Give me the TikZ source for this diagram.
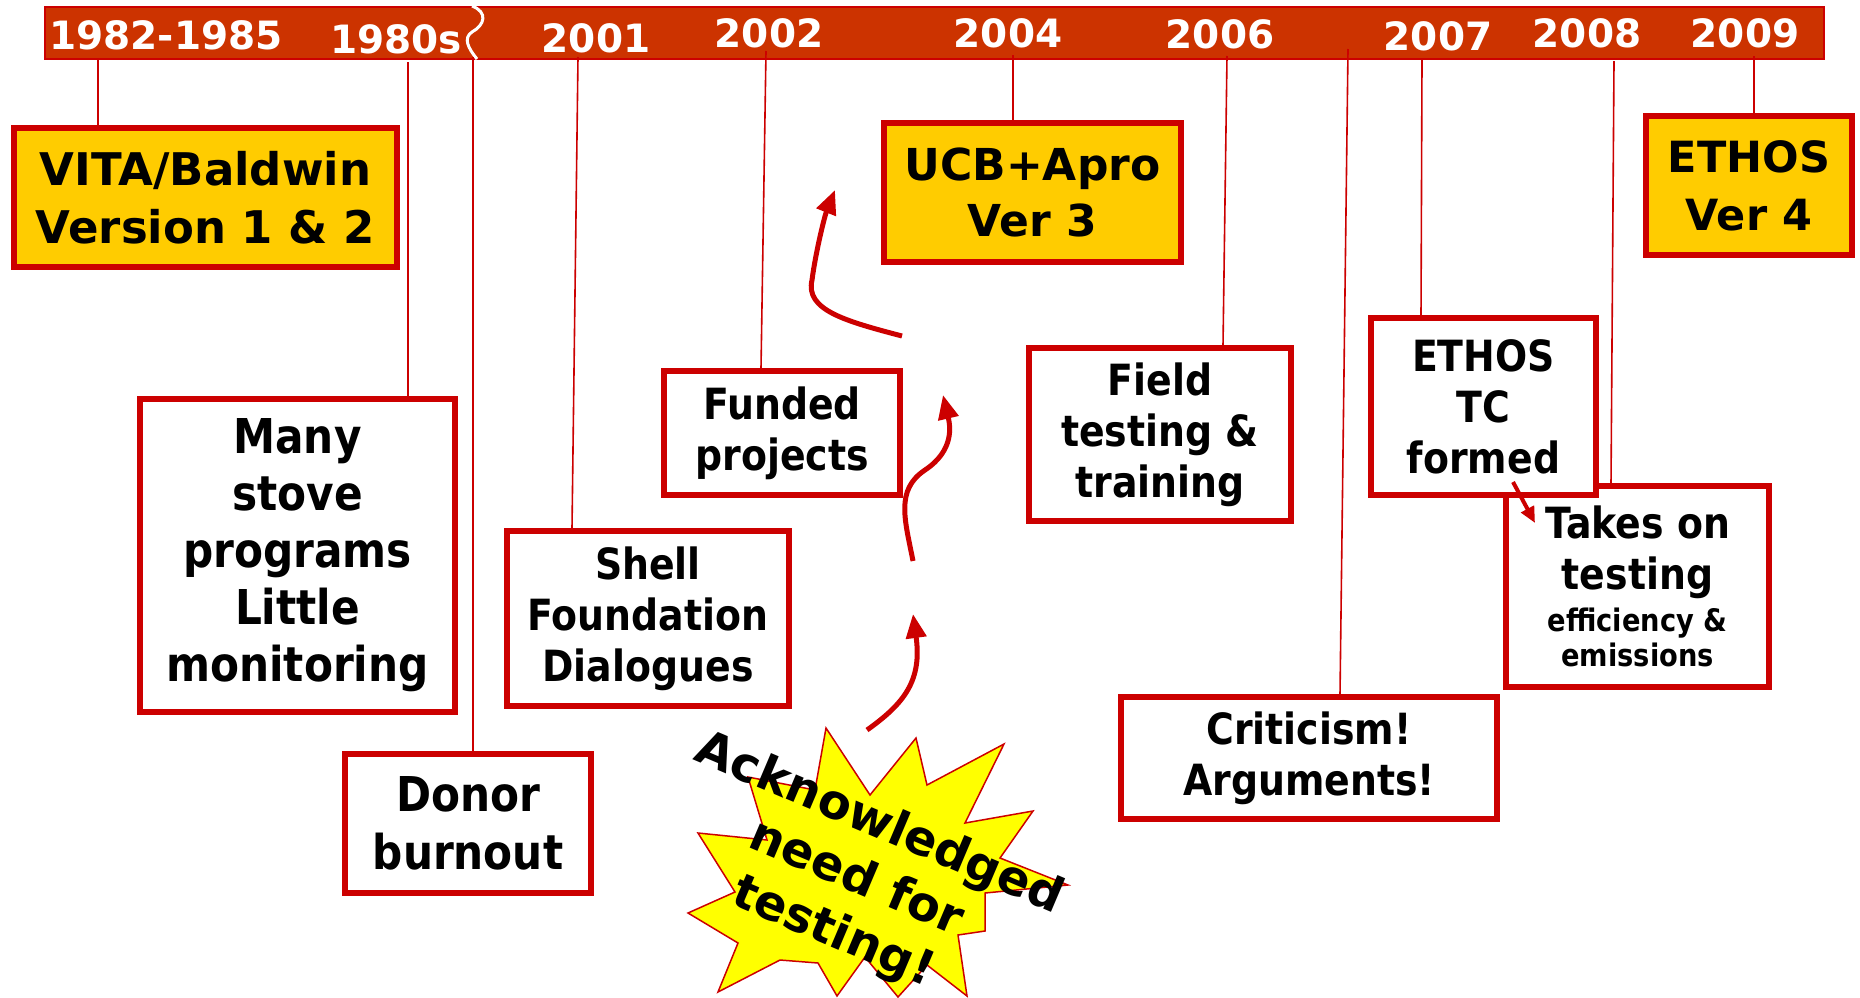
\documentclass[tikz,border=0pt]{standalone}
\usepackage{fontspec}
\setmainfont{DejaVu Sans}
\newfontfamily\vfont{DejaVu Sans}
\newfontfamily\tfont{DejaVu Sans}[FakeStretch=0.88]
\usetikzlibrary{arrows.meta}
\definecolor{barfill}{HTML}{CC3300}
\definecolor{redline}{HTML}{CC0000}
\definecolor{boxyellow}{HTML}{FFCC00}
\definecolor{burst}{HTML}{FFFF00}
\pgfdeclarelayer{bg}
\pgfdeclarelayer{lines}
\pgfsetlayers{bg,lines,main}
\begin{document}
\begin{tikzpicture}[x=1pt,y=-1pt,
  year/.style={text=white, font=\vfont\bfseries\fontsize{39}{39}\selectfont, anchor=base, inner sep=0pt},
  ybox/.style={draw=redline, line width=6pt, fill=boxyellow, align=center, inner sep=0pt, font=\vfont\bfseries\fontsize{45}{58}\selectfont},
  wbox/.style={draw=redline, line width=5.5pt, fill=white, align=center, inner sep=0pt, font=\tfont\bfseries\fontsize{43}{51}\selectfont},
  leader/.style={draw=redline, line width=1.6pt},
  flow/.style={draw=redline, line width=5pt, -{Triangle[length=24pt,width=20pt]}},
]
\useasboundingbox (0,0) rectangle (1860,997);
\begin{pgfonlayer}{bg}
\fill[white] (0,0) rectangle (1860,997);
% header bar
\draw[fill=barfill, draw=redline, line width=1.5pt] (45,7) rectangle (1824,59);
\draw[white, line width=3pt] (472,6) .. controls (488,12) and (485,25) .. (472,32) .. controls (463,38) and (468,48) .. (477,59);
\end{pgfonlayer}

\node[year] (y1) at (166,49) {1982-1985};
\node[year] (y2) at (396,53) {1980s};
\node[year] (y3) at (596,52) {2001};
\node[year] (y4) at (769,47) {2002};
\node[year] (y5) at (1008,47) {2004};
\node[year] (y6) at (1220,48) {2006};
\node[year] (y7) at (1438,50) {2007};
\node[year] (y8) at (1587,47) {2008};
\node[year] (y9) at (1745,47) {2009};

% yellow boxes
\node[ybox, minimum width=383pt, minimum height=139pt] (vita) at (205.5,197.5) {VITA/Baldwin\\Version 1 \& 2};
\node[ybox, font=\vfont\bfseries\fontsize{44}{56}\selectfont, minimum width=297pt, minimum height=139pt] (ucb) at (1032.5,192.5) {UCB+Apro\\Ver 3};
\node[ybox, font=\vfont\bfseries\fontsize{43}{58}\selectfont, minimum width=206pt, minimum height=139pt] (ethos) at (1749,185.5) {ETHOS\\Ver 4};

% white boxes
\node[wbox, font=\tfont\bfseries\fontsize{48}{57}\selectfont, minimum width=315pt, minimum height=313pt] (many) at (297.5,555.5) {Many\\stove\\programs\\Little\\monitoring};
\node[wbox, font=\tfont\bfseries\fontsize{48}{58}\selectfont, minimum width=246pt, minimum height=139pt] (donor) at (468,823.5) {Donor\\burnout};
\node[wbox, minimum width=282pt, minimum height=175pt] (shell) at (648,618.5) {Shell\\Foundation\\Dialogues};
\node[wbox, minimum width=236pt, minimum height=124pt] (funded) at (782,433) {Funded\\projects};
\node[wbox, minimum width=262pt, minimum height=173pt] (field) at (1160,434.5) {Field\\testing \&\\training};
\node[wbox, minimum width=263pt, minimum height=201pt] (takes) at (1637.5,586.5) {Takes on\\testing\\[-9pt]\fontsize{31}{37}\selectfont efficiency \&\\[-16pt]\fontsize{31}{37}\selectfont emissions};
\node[wbox, minimum width=225pt, minimum height=177pt] (tc) at (1483.5,406.5) {ETHOS\\TC\\formed};
\node[wbox, minimum width=376pt, minimum height=122pt] (crit) at (1309,758) {Criticism!\\Arguments!};

% leader lines
\coordinate (l1) at (98,59);
\coordinate (l2) at (408,62);
\coordinate (l3) at (473,57);
\coordinate (l4) at (578,57);
\coordinate (l5) at (766,51);
\coordinate (l6) at (1013,55);
\coordinate (l7) at (1227,56);
\coordinate (l8) at (1348,49);
\coordinate (l9) at (1422,60);
\coordinate (l10) at (1614,61);
\coordinate (l11) at (1754,56);
\begin{pgfonlayer}{lines}
\draw[leader, line width=2pt] (l1) -- (l1 |- vita.north);
\draw[leader] (l2) -- (l2 |- many.north);
\draw[leader] (l3) -- (l3 |- donor.north);
\draw[leader] (l4) -- (572,0 |- shell.north);
\draw[leader] (l5) -- (761,0 |- funded.north);
\draw[leader, line width=2.6pt] (l6) -- (l6 |- ucb.north);
\draw[leader] (l7) -- (1223,0 |- field.north);
\draw[leader] (l8) -- (1340,0 |- crit.north);
\draw[leader] (l9) -- (1421,0 |- tc.north);
\draw[leader] (l10) -- (1611,0 |- takes.north);
\draw[leader, line width=2.6pt] (l11) -- (l11 |- ethos.north);
\end{pgfonlayer}

% starburst
\draw[draw=redline, line width=1.5pt, fill=burst, line join=miter]
  (826,728) -- (870,795) -- (916,738) -- (927,785) -- (1004,744) -- (965,823)
  -- (1033,811) -- (1000,858) -- (1068,885) -- (985,893) -- (985,931) -- (958,935)
  -- (967,996) -- (927,965) -- (898,997) -- (865,957) -- (837,996) -- (818,963)
  -- (780,960) -- (718,992) -- (738,943) -- (688,913) -- (735,892) -- (698,833)
  -- (767,840) -- (748,777) -- (815,790) -- cycle;
\node[rotate=-23, align=center, inner sep=0pt, font=\vfont\bfseries\fontsize{48}{59}\selectfont] (ack) at (856,879) {Acknowledged\\need for\\testing!};

% flow arrows
\coordinate (a1s) at (902,336);
\coordinate (a1e) at (835,190);
\coordinate (a2s) at (913,561);
\coordinate (a2e) at (943,395);
\coordinate (a3s) at (867,730);
\coordinate (a3e) at (913,614);
\draw[flow] (a1s) .. controls (845,321) and (805,310) .. (812,280) .. controls (816,250) and (825,215) .. (a1e);
\draw[flow] (a2s) .. controls (905,520) and (895,490) .. (925,470) .. controls (955,450) and (950,425) .. (a2e);
\draw[flow] (a3s) .. controls (905,703) and (922,680) .. (a3e);
\coordinate (a4s) at (1513,482);
\coordinate (a4e) at (1535,523);
\draw[draw=redline, line width=4pt, -{Triangle[length=16pt,width=14pt]}] (a4s) -- (a4e);
\end{tikzpicture}
\end{document}
